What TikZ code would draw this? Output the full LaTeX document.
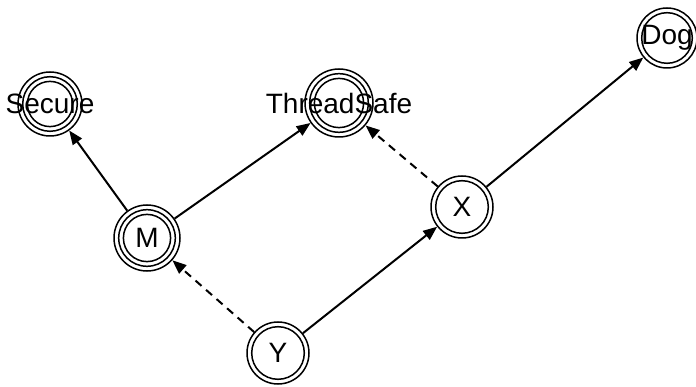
\documentclass[tikz,border=0pt]{standalone}
\usepackage{fontspec}
\setmainfont{Liberation Sans}
\usetikzlibrary{arrows.meta}

\begin{document}
\begin{tikzpicture}[
    x=1pt,y=-1pt,font=\fontsize{28}{30}\selectfont,
    state/.style={draw,black,circle,line width=1.5pt,inner sep=0pt},
    ring/.style={draw,black,line width=1.5pt},
    arr/.style={line width=2pt,-{Triangle[length=14pt,width=11pt]}},
    dsh/.style={arr,dash pattern=on 8pt off 6pt}
    ]
    \useasboundingbox (0,0) rectangle (696,387);
    \node[state,minimum size=64pt,label=center:Secure] (Secure) at (50,104) {};
    \node[state,minimum size=68pt,label=center:ThreadSafe] (ThreadSafe) at (339,103) {};
    \node[state,minimum size=60pt,label=center:Dog] (Dog) at (667,38) {};
    \node[state,minimum size=66pt,label=center:M] (M) at (147,238) {};
    \node[state,minimum size=62pt,label=center:X] (X) at (462,207) {};
    \node[state,minimum size=62pt,label=center:Y] (Y) at (278,353) {};
    \foreach \n/\r in {Secure/27.3,Secure/22.6,ThreadSafe/29.3,ThreadSafe/24.6,M/28.3,M/23.6,X/26.3,Y/26.3,Dog/25.3}
      \draw[ring] (\n.center) circle[radius=\r pt];
    \draw[arr] (M) -- (Secure);
    \draw[arr] (M) -- (ThreadSafe);
    \draw[arr] (X) -- (Dog);
    \draw[arr] (Y) -- (X);
    \draw[dsh] (Y) -- (M);
    \draw[dsh] (X) -- (ThreadSafe);
\end{tikzpicture}
\end{document}
